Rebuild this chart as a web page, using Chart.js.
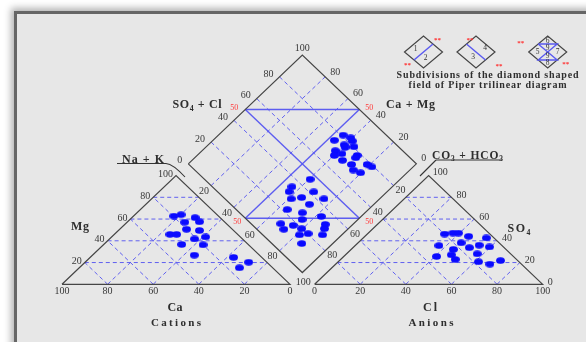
<!DOCTYPE html>
<html><head><meta charset="utf-8">
<script src="https://cdn.jsdelivr.net/npm/chart.js@4/dist/chart.umd.min.js"></script>
<style>
html,body{margin:0;padding:0;background:#fff;width:586px;height:342px;overflow:hidden;}
#frame{position:absolute;left:14px;top:11px;width:620px;height:380px;background:#e7e7e7;border-left:3px solid #666;border-top:3px solid #666;box-shadow:-3px -3px 7px rgba(0,0,0,0.30);}
canvas{position:absolute;left:0;top:0;}
</style></head><body><div id="frame"></div><canvas id="c" width="586" height="342"></canvas>
<script>
// ---- data (percent values) ----
const gridTicks = [20, 40, 60, 80];
const edgeTicks = [0, 20, 40, 60, 80, 100];
const cationCa = [19.6,15.8,17.6,11.0,11.0,20.1,15.0,29.7,26.8,21.0,15.3,29.2,20.0,28.6,12.4,8.0,14.6];
const cationMg = [62.7,64.0,57.1,61.3,57.5,50.6,49.5,45.9,45.9,41.7,43.5,36.6,36.3,26.8,24.7,20.3,15.2];
const anionCl  = [33.9,37.1,39.5,45.5,54.0,36.7,45.2,54.2,51.0,44.8,59.5,40.7,46.4,57.3,50.2,61.5,67.6,70.6];
const anionSO4 = [46.2,47.1,47.1,44.1,42.6,35.6,38.1,35.9,33.7,32.1,34.3,25.6,27.1,28.0,22.9,20.7,18.5,21.8];
const diamondNaK   = [54.7,53.2,59.2,61.4,59.6,61.2,64.8,58.4,62.7,60.2,70.2,70.6,71.9,78.7,81.9,75.2,79.6,66.0,
                      60.5,56.0,57.0,67.9,65.2,61.2,75.6,71.7,64.4,72.5,82.5,75.5,68.1,74.3,87.9,89.5,79.5,72.0,81.4,84.6,91.5,86.4];
const diamondSO4Cl = [81.1,74.9,83.2,82.4,77.1,76.3,80.5,70.5,72.0,67.9,77.9,76.2,71.3,78.1,79.1,69.5,71.4,69.2,
                      46.3,34.9,31.4,42.1,34.2,29.0,43.4,34.5,22.3,27.5,34.1,24.3,13.0,17.7,32.2,29.9,19.9,11.8,16.1,20.4,26.2,13.1];

// ---- ternary geometry (data units: triangle side = 100 wide, 100 high) ----
const GAP = 10.78;
const AX = 100 + GAP;
const cat = (na, mg) => ({x: na + mg / 2, y: mg});
const catCa = (ca, mg) => cat(100 - ca - mg, mg);
const an = (cl, so4) => ({x: AX + cl + so4 / 2, y: so4});
const DL = {x: 50 + GAP / 2, y: 100 + GAP};
const dia = (a, b) => ({x: DL.x + 0.5 * a + 0.5 * b, y: DL.y - a + b});

const GRID = {color: 'rgba(90,90,240,0.95)', width: 1, dash: [4, 3], order: 4};
const SOLID = {color: 'rgba(85,85,240,0.95)', width: 1.4, dash: [], order: 3};
const EDGE = {color: '#454545', width: 1.2, dash: [], order: 2};

const datasets = [];
function seg(pts, st) {
  datasets.push({data: pts, showLine: true, pointRadius: 0, borderColor: st.color, borderWidth: st.width,
    borderDash: st.dash, fill: false, order: st.order, tension: 0});
}
// outlines
seg([cat(0,0), cat(100,0), cat(0,100), cat(0,0)], EDGE);
seg([an(0,0), an(100,0), an(0,100), an(0,0)], EDGE);
seg([dia(0,0), dia(100,0), dia(100,100), dia(0,100), dia(0,0)], EDGE);
// triangle grids
gridTicks.forEach(t => {
  seg([cat(0,t), cat(100-t,t)], GRID);          // Mg
  seg([cat(t,0), cat(t,100-t)], GRID);          // Na+K
  seg([cat(100-t,0), cat(0,100-t)], GRID);      // Ca
  seg([an(0,t), an(100-t,t)], GRID);            // SO4
  seg([an(t,0), an(t,100-t)], GRID);            // Cl
  seg([an(100-t,0), an(0,100-t)], GRID);        // CO3+HCO3
  seg([dia(t,0), dia(t,100)], GRID);
  seg([dia(0,t), dia(100,t)], GRID);
});
// diamond subdivisions (50 % lines)
seg([dia(50,0), dia(50,100)], SOLID);
seg([dia(0,50), dia(100,50)], SOLID);
seg([dia(0,50), dia(50,100)], SOLID);
seg([dia(50,0), dia(100,50)], SOLID);

// point marker (ellipse)
const dot = document.createElement('canvas');
dot.width = 9; dot.height = 7;
(() => { const g = dot.getContext('2d'); g.fillStyle = '#0a0aff'; g.beginPath(); g.ellipse(4.5,3.5,4.4,3.3,0,0,Math.PI*2); g.fill(); })();
const ptDs = pts => ({data: pts, showLine: false, pointStyle: dot, pointRadius: 4, order: 0});
datasets.push(ptDs(cationCa.map((c, i) => catCa(c, cationMg[i]))));
datasets.push(ptDs(anionCl.map((c, i) => an(c, anionSO4[i]))));
datasets.push(ptDs(diamondNaK.map((a, i) => dia(a, diamondSO4Cl[i]))));

// ---- text ----
const SERIF = '"Liberation Serif","Times New Roman",serif';
const NUM = '#383838';
function txt(ctx, s, x, y, o = {}) {
  ctx.save();
  ctx.font = (o.bold ? 'bold ' : '') + (o.size || 10) + 'px ' + SERIF;
  ctx.fillStyle = o.color || NUM;
  ctx.textBaseline = 'middle';
  ctx.textAlign = o.align || 'center';
  if (o.width) {
    ctx.letterSpacing = '0px';
    const w = ctx.measureText(s).width;
    const ls = (o.width - w) / Math.max(1, s.length - 1);
    ctx.letterSpacing = ls.toFixed(2) + 'px';
  }
  ctx.fillText(s, x, y);
  ctx.restore();
}
// rich text with subscripts: parts = [[text, isSub]]
function rich(ctx, parts, x, y, o = {}) {
  ctx.save();
  const size = o.size || 11, sub = size * 0.65;
  const f = (s) => 'bold ' + s + 'px ' + SERIF;
  let w = 0;
  parts.forEach(p => { ctx.font = f(p[1] ? sub : size); w += ctx.measureText(p[0]).width; });
  const extra = o.width ? (o.width - w) / Math.max(1, parts.reduce((n,p)=>n+p[0].length,0) - 1) : 0;
  let cx = o.align === 'left' ? x : x - (o.width || w) / 2;
  ctx.fillStyle = o.color || '#2e2e2e';
  ctx.textBaseline = 'alphabetic';
  parts.forEach(p => {
    for (const ch of p[0]) {
      ctx.font = f(p[1] ? sub : size);
      ctx.fillText(ch, cx, y + size * 0.35 + (p[1] ? size * 0.2 : 0));
      cx += ctx.measureText(ch).width + extra;
    }
  });
  if (o.underline) {
    ctx.strokeStyle = '#333'; ctx.lineWidth = 1.2;
    ctx.beginPath(); ctx.moveTo(o.underline[0], o.underline[2]); ctx.lineTo(o.underline[1], o.underline[2]); ctx.stroke();
  }
  ctx.restore();
}

const labelsPlugin = {
  id: 'labels',
  afterDatasetsDraw(chart) {
    const ctx = chart.ctx, sx = chart.scales.x, sy = chart.scales.y;
    const P = p => ({x: sx.getPixelForValue(p.x), y: sy.getPixelForValue(p.y)});
    // cation base (Ca: 100 at left)
    edgeTicks.forEach(t => { const q = P(cat(t, 0)); txt(ctx, String(100 - t), q.x, q.y + 7); });
    // anion base (Cl)
    edgeTicks.forEach(t => { const q = P(an(t, 0)); txt(ctx, String(t), q.x, q.y + 7); });
    // Mg left edge
    edgeTicks.slice(1).forEach(t => { const q = P(cat(0, t)); txt(ctx, String(t), q.x - 3, q.y - 1, {align: 'right'}); });
    // SO4 right edge
    edgeTicks.slice(0, 5).forEach(t => { const q = P(an(100 - t, t)); txt(ctx, String(t), q.x + 5, q.y - 2, {align: 'left'}); });
    { const q = P(an(0, 100)); txt(ctx, '100', q.x + 4, q.y - 3, {align: 'left'}); }
    // diamond upper-left (SO4+Cl)
    edgeTicks.slice(0, 5).forEach(t => { const q = P(dia(0, t)); txt(ctx, String(t), q.x - 6, q.y - 3, {align: 'right'}); });
    { const q = P(dia(0, 100)); txt(ctx, '100', q.x, q.y - 7); }
    // diamond upper-right (Ca+Mg, 100 at top)
    edgeTicks.slice(0, 5).forEach(t => { const q = P(dia(100 - t, 100)); txt(ctx, String(t), q.x + 5, q.y - 5, {align: 'left'}); });
    // diamond lower-left (Na+K)
    gridTicks.forEach(t => { const q = P(dia(t, 0)); txt(ctx, String(t), q.x - 7, q.y + 6); });
    { const q = P(dia(100, 0)); txt(ctx, '100', q.x + 1, q.y + 10); }
    // diamond lower-right (CO3+HCO3)
    gridTicks.forEach(t => { const q = P(dia(100, 100 - t)); txt(ctx, String(t), q.x + 7, q.y + 5); });
    // red 50 labels
    const red = {color: '#ff3b3b', size: 8};
    { const q = P(dia(0, 50)); txt(ctx, '50', q.x - 7, q.y - 2, Object.assign({align: 'right'}, red)); }
    { const q = P(dia(50, 100)); txt(ctx, '50', q.x + 6, q.y - 2, Object.assign({align: 'left'}, red)); }
    { const q = P(dia(50, 0)); txt(ctx, '50', q.x - 8, q.y + 4, red); }
    { const q = P(dia(100, 50)); txt(ctx, '50', q.x + 10, q.y + 4, red); }

    // axis titles
    rich(ctx, [['SO', 0], ['4', 1], [' + Cl', 0]], 197, 104, {size: 12, width: 49});
    rich(ctx, [['Ca + Mg', 0]], 386, 103.5, {size: 12, width: 49, align: 'left'});
    rich(ctx, [['Na + K', 0]], 122, 159, {size: 12, width: 42, align: 'left', underline: [117, 166, 163.5]});
    rich(ctx, [['CO', 0], ['3', 1], [' + HCO', 0], ['3', 1]], 432, 155, {size: 11.5, width: 71, align: 'left', underline: [436, 502, 160]});
    rich(ctx, [['Mg', 0]], 80, 226, {size: 12, width: 18});
    rich(ctx, [['Ca', 0]], 175, 307, {size: 12, width: 15});
    rich(ctx, [['Cations', 0]], 176, 322, {size: 11, width: 50});
    rich(ctx, [['Cl', 0]], 430, 307, {size: 12, width: 14});
    rich(ctx, [['Anions', 0]], 431, 322, {size: 11, width: 45});
    rich(ctx, [['SO', 0], ['4', 1]], 519, 228, {size: 12, width: 23});
    // leader lines
    ctx.save(); ctx.strokeStyle = '#333'; ctx.lineWidth = 1.1;
    ctx.beginPath(); ctx.moveTo(166, 163.5); ctx.quadraticCurveTo(173, 164, 185, 177); ctx.stroke();
    ctx.beginPath(); ctx.moveTo(436, 160); ctx.lineTo(420, 176); ctx.stroke();
    ctx.restore();

    // legend: subdivisions of the diamond
    const HW = 19, HH = 16;
    function dm(cx, cy) {
      ctx.strokeStyle = '#454545'; ctx.lineWidth = 1.2; ctx.setLineDash([]);
      ctx.beginPath(); ctx.moveTo(cx - HW, cy); ctx.lineTo(cx, cy - HH); ctx.lineTo(cx + HW, cy); ctx.lineTo(cx, cy + HH); ctx.closePath(); ctx.stroke();
    }
    function ln(pts) {
      ctx.strokeStyle = '#5a5af0'; ctx.lineWidth = 1.4; ctx.beginPath();
      pts.forEach((p, i) => i ? ctx.lineTo(p[0], p[1]) : ctx.moveTo(p[0], p[1])); ctx.stroke();
    }
    const sm = {size: 7.5, color: '#333'};
    const rd = {size: 7, color: '#ff3030', bold: true};
    ctx.save();
    let cx = 423.5, cy = 52;
    dm(cx, cy); ln([[cx - 9.5, cy + 8], [cx + 9.5, cy - 8]]);
    txt(ctx, '1', cx - 8, cy - 3, sm); txt(ctx, '2', cx + 2, cy + 6, sm);
    txt(ctx, '**', cx + 14, cy - 12, rd); txt(ctx, '**', cx - 16, cy + 13, rd);
    cx = 476;
    dm(cx, cy); ln([[cx - 9.5, cy - 8], [cx + 9.5, cy + 8]]);
    txt(ctx, '4', cx + 9, cy - 4, sm); txt(ctx, '3', cx - 3, cy + 5, sm);
    txt(ctx, '**', cx - 6, cy - 12, rd); txt(ctx, '**', cx + 23, cy + 14, rd);
    cx = 547.7;
    dm(cx, cy);
    ln([[cx - 9.5, cy - 8], [cx + 9.5, cy - 8], [cx - 9.5, cy + 8], [cx + 9.5, cy + 8], [cx - 9.5, cy - 8]]);
    txt(ctx, '6', cx, cy - 11, sm); txt(ctx, '9', cx, cy - 4, sm); txt(ctx, '9', cx, cy + 4.5, sm);
    txt(ctx, '8', cx, cy + 11.5, sm); txt(ctx, '5', cx - 10, cy, sm); txt(ctx, '7', cx + 10, cy, sm);
    txt(ctx, '**', cx - 27, cy - 9, rd); txt(ctx, '**', cx + 18, cy + 12, rd);
    ctx.restore();
    txt(ctx, 'Subdivisions of the diamond shaped', 488, 75.5, {bold: true, size: 10, width: 182, color: '#2e2e2e'});
    txt(ctx, 'field of Piper trilinear diagram', 488, 85, {bold: true, size: 10, width: 158, color: '#2e2e2e'});
  }
};

new Chart(document.getElementById('c'), {
  type: 'scatter',
  data: {datasets},
  options: {
    responsive: false, animation: false, events: [],
    layout: {padding: 0},
    plugins: {legend: {display: false}, tooltip: {enabled: false}},
    scales: {
      x: {type: 'linear', display: false, min: -25.0, max: 227.6},
      y: {type: 'linear', display: false, min: -48.5, max: 256.9}
    }
  },
  plugins: [labelsPlugin]
});
</script></body></html>
